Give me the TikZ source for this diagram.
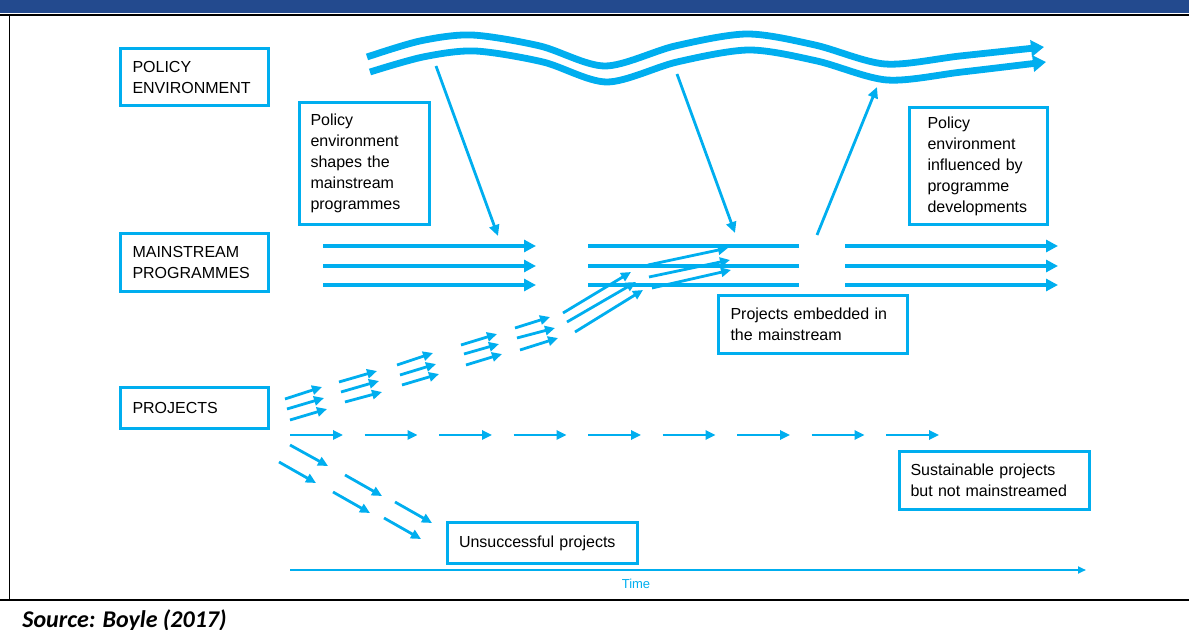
\documentclass[tikz,border=0pt]{standalone}
\usepackage{fontspec}
\setmainfont{Liberation Sans}
\newfontfamily\sourcefont{Carlito}
\usetikzlibrary{arrows.meta}
\definecolor{flowblue}{HTML}{00AEEF}
\definecolor{barblue}{HTML}{234A8E}
\tikzset{
  box/.style={draw=flowblue, line width=1.5pt, anchor=north west, inner xsep=6pt, inner ysep=0pt,
    align=left, font=\fontsize{8}{10.5}\selectfont},
  stream/.style={draw=flowblue, line width=1.7pt},
  flow/.style={stream, -{Triangle[length=6pt,width=6pt]}},
  small/.style={draw=flowblue, line width=1.4pt, -{Triangle[length=5pt,width=4.6pt]}},
  wave/.style={draw=flowblue, line width=3.4pt, -{Triangle[length=6.5pt,width=8pt]}},
  feed/.style={draw=flowblue, line width=1.4pt, -{Triangle[length=5.5pt,width=5pt]}}
}
\begin{document}
\begin{tikzpicture}[x=0.5pt, y=-0.5pt]
\useasboundingbox (0,0) rectangle (1189,630);
\fill[barblue] (0,0) rectangle (1189,13.5);
\draw[line width=1.3pt] (0,15) -- (1189,15);
\draw[line width=0.8pt] (9.5,15) -- (9.5,600);
\draw[line width=1.3pt] (0,600) -- (1189,600);

\node[box, text width=62pt, minimum height=28.5pt] (policy) at (119,47) {POLICY\\ENVIRONMENT};
\node[box, text width=62pt, minimum height=29pt] (mainstream) at (119,232) {MAINSTREAM\\PROGRAMMES};
\node[box, text width=62pt, minimum height=20.5pt] (projects) at (119,386) {PROJECTS};
\node[box, inner xsep=5.5pt, text width=54pt, minimum height=61pt] (shapes) at (298,101)
  {Policy\\environment\\shapes the\\mainstream\\programmes};
\node[box, inner xsep=9pt, text width=51pt, minimum height=58.5pt] (influenced) at (908,106)
  {Policy\\environment\\influenced by\\programme\\developments};
\node[box, text width=82.5pt, minimum height=29pt] (embedded) at (717,294) {Projects embedded in\\the mainstream};
\node[box, inner xsep=5.5pt, text width=84pt, minimum height=29pt] (sustainable) at (898,450) {Sustainable projects\\but not mainstreamed};
\node[box, inner xsep=5.75pt, text width=83.5pt, minimum height=20.5pt] (unsuccessful) at (446,521) {Unsuccessful projects};

\draw[wave] plot[smooth] coordinates {(367,57) (420,41) (472,35) (540,46) (605,66) (675,46) (747,34)
  (815,45) (885,64) (960,56) (1044,47)};
\draw[wave] plot[smooth] coordinates {(370,72) (423,57) (475,51) (543,62) (607,82) (677,62) (749,50)
  (817,61) (887,80) (962,72) (1046,62)};

\draw[feed] (436,66) -- (498,236);
\draw[feed] (677,74) -- (735,233);
\draw[feed] (817,235) -- (877,87);

\foreach \y in {246,266,285} {
  \draw[flow] (323,\y) -- (536,\y);
  \draw[stream] (588,\y) -- (799,\y);
  \draw[flow] (845,\y) -- (1058,\y);
}

\foreach \xa/\ya/\xb/\yb in {285/399/322/387, 287/409/324/398, 290/420/327/409,
  339/382/377/371, 341/392/379/381, 345/402/382/392,
  397/365/433/353, 400/375/436/364, 402/385/439/374,
  461/345/497/334, 464/354/499/344, 466/365/502/354,
  515/328/550/317, 517/338/555/328, 520/350/558/338,
  563/313/631/272, 567/322/636/282, 575/332/643/290,
  648/265/728/248, 649/277/730/260, 652/288/731/270}
  \draw[small] (\xa,\ya) -- (\xb,\yb);

\foreach \i in {0,...,8}
  \draw[small] ({290+74.5*\i},435) -- ({343+74.5*\i},435);

\foreach \xa/\ya/\xb/\yb in {290/445/328/466, 279/462/316/483, 345/475/382/496,
  333/492/370/513, 395/502/432/523, 384/518/421/539}
  \draw[small] (\xa,\ya) -- (\xb,\yb);

\draw[draw=flowblue, line width=1.2pt, -{Triangle[length=4pt,width=3.5pt]}] (290,570) -- (1086,570);
\node[text=flowblue, font=\fontsize{6.5}{8}\selectfont] (time) at (636,584) {Time};

\node[anchor=base west, inner sep=0pt, font=\sourcefont\fontsize{12}{14}\selectfont\bfseries\itshape] (source)
  at (22,627) {Source: Boyle (2017)};
\end{tikzpicture}
\end{document}
